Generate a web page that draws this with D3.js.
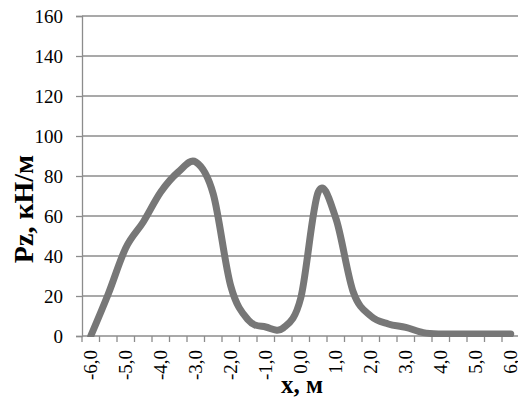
<!DOCTYPE html>
<html>
<head>
<meta charset="utf-8">
<script src="https://cdn.jsdelivr.net/npm/d3@7"></script>
<style>
  html, body { margin: 0; padding: 0; background: #fff; }
  svg { display: block; }
  text { font-family: "Liberation Serif", "Times New Roman", serif; fill: #000; }
</style>
</head>
<body>
<script>
// Positions along the beam, m (category axis, every 0.5 m)
const positions = [-6.0, -5.5, -5.0, -4.5, -4.0, -3.5, -3.0, -2.5, -2.0, -1.5, -1.0, -0.5,
                   0.0, 0.5, 1.0, 1.5, 2.0, 2.5, 3.0, 3.5, 4.0, 4.5, 5.0, 5.5, 6.0];
// Distributed load Pz, kN/m
const loadPz = [0, 21, 44, 57, 72, 82, 87, 71, 25, 8, 4.5, 4,
                19, 72, 59, 22, 10, 6, 4.3, 1.7, 1, 1, 1, 1, 1];
const yTicks = [0, 20, 40, 60, 80, 100, 120, 140, 160];
const xLabelEvery = 2;

const W = 518, H = 399;
const m = { left: 82, top: 16, bottom: 336, right: 519.5 };

const svg = d3.select("body").append("svg").attr("width", W).attr("height", H);

const x = d3.scaleBand().domain(positions).range([m.left, m.right]).padding(0);
const y = d3.scaleLinear().domain([0, 160]).range([m.bottom, m.top]);

const fmt = v => v.toFixed(1).replace(".", ",").replace("-0,0", "0,0");

// Horizontal gridlines
svg.append("g").selectAll("line").data(yTicks.filter(d => d > 0)).join("line")
  .attr("x1", m.left).attr("x2", W)
  .attr("y1", d => y(d)).attr("y2", d => y(d))
  .attr("stroke", "#8c8c8c").attr("stroke-width", 1.3);

// Y axis
const yAxis = svg.append("g").attr("transform", `translate(${m.left},0)`)
  .call(d3.axisLeft(y).tickValues(yTicks).tickSize(6).tickPadding(13).tickFormat(d => d));
yAxis.select(".domain").attr("stroke", "#8c8c8c").attr("stroke-width", 1.3);
yAxis.selectAll(".tick line").attr("stroke", "#8c8c8c").attr("stroke-width", 1.3);
yAxis.selectAll(".tick text").attr("font-size", 19).attr("font-family", "Liberation Serif").attr("fill", "#000");

// X axis: tick marks at category boundaries
const xg = svg.append("g");
xg.append("line").attr("x1", m.left).attr("x2", W).attr("y1", y(0)).attr("y2", y(0))
  .attr("stroke", "#8c8c8c").attr("stroke-width", 1.3);
xg.selectAll("line.tick").data(positions.concat([null])).join("line").attr("class", "tick")
  .attr("x1", (d, i) => m.left + i * x.step()).attr("x2", (d, i) => m.left + i * x.step())
  .attr("y1", y(0)).attr("y2", y(0) + 6)
  .attr("stroke", "#8c8c8c").attr("stroke-width", 1.3);
xg.selectAll("text").data(positions.filter((d, i) => i % xLabelEvery === 0)).join("text")
  .attr("transform", d => `translate(${x(d) + x.bandwidth() / 2 + 6},${y(0) + 14}) rotate(-90)`)
  .attr("text-anchor", "end")
  .attr("font-size", 19)
  .text(fmt);

// Axis titles
svg.append("text")
  .attr("x", 302).attr("y", 393)
  .attr("text-anchor", "middle").attr("font-size", 25).attr("font-weight", "bold")
  .text("x, м");
svg.append("text")
  .attr("transform", `translate(33,209) rotate(-90)`)
  .attr("text-anchor", "middle").attr("font-size", 28).attr("font-weight", "bold")
  .text("Pz, кН/м");

// Load curve (smoothed)
svg.append("clipPath").attr("id", "plot")
  .append("rect").attr("x", m.left).attr("y", m.top - 10).attr("width", W - m.left).attr("height", m.bottom - m.top + 11);

const line = d3.line()
  .x((d, i) => x(positions[i]) + x.bandwidth() / 2)
  .y(d => y(d))
  .curve(d3.curveCatmullRom.alpha(0));

svg.append("path")
  .datum(loadPz)
  .attr("clip-path", "url(#plot)")
  .attr("d", line)
  .attr("fill", "none")
  .attr("stroke", "#777777")
  .attr("stroke-width", 7)
  .attr("stroke-linecap", "round")
  .attr("stroke-linejoin", "round");
</script>
</body>
</html>
